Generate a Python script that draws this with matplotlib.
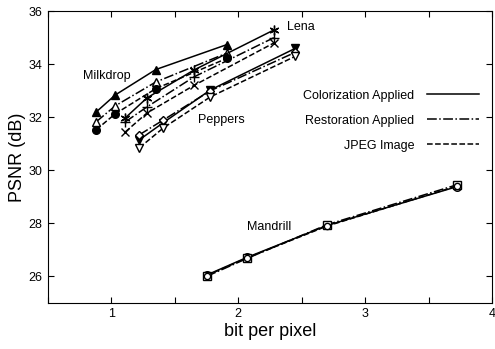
import matplotlib
matplotlib.use("Agg")
import matplotlib.pyplot as plt

plt.rcParams['font.family'] = ['Liberation Sans', 'DejaVu Sans']

# Milkdrop
milk_x = [0.88, 1.03, 1.35, 1.91]
milk_color = [32.2, 32.84, 33.8, 34.74]
milk_rest = [31.83, 32.43, 33.33, 34.42]
milk_jpeg = [31.53, 32.13, 33.08, 34.22]
# Lena
lena_x = [1.11, 1.28, 1.65, 2.28]
lena_color = [31.98, 32.73, 33.78, 35.29]
lena_rest = [31.83, 32.39, 33.52, 35.0]
lena_jpeg = [31.45, 32.16, 33.2, 34.8]
# Peppers
pep_x = [1.22, 1.41, 1.78, 2.45]
pep_color = [31.15, 31.8, 33.03, 34.6]
pep_rest = [31.34, 31.9, 33.0, 34.45]
pep_jpeg = [30.85, 31.6, 32.77, 34.3]
# Mandrill
man_x = [1.75, 2.07, 2.7, 3.72]
man_color = [26.05, 26.72, 27.92, 29.38]
man_rest = [26.0, 26.68, 27.95, 29.45]
man_jpeg = [26.03, 26.7, 27.9, 29.4]

xticks = [0.5, 1, 1.5, 2, 2.5, 3, 3.5, 4]
xticklabels = ['', '1', '', '2', '', '3', '', '4']
yticks = [26, 28, 30, 32, 34, 36]

fig = plt.figure(figsize=(4.95, 3.49), dpi=100)
ax = fig.add_axes([0.097, 0.132, 0.897, 0.836])

lw = 1.1
ms = 5.5
kw = dict(color='black', linewidth=lw, markersize=ms)

# Milkdrop
ax.plot(milk_x, milk_color, '-', marker='^', markerfacecolor='black', **kw)
ax.plot(milk_x, milk_rest, '-.', marker='^', markerfacecolor='white', **kw)
ax.plot(milk_x, milk_jpeg, '--', marker='o', markerfacecolor='black', **kw)
# Lena
ax.plot(lena_x, lena_color, '-', marker=(6, 2, 0), markersize=7, color='black', linewidth=lw)
ax.plot(lena_x, lena_rest, '-.', marker='+', markersize=7, color='black', linewidth=lw)
ax.plot(lena_x, lena_jpeg, '--', marker='x', markersize=6, color='black', linewidth=lw)
# Peppers
ax.plot(pep_x, pep_color, '-', marker='v', markerfacecolor='black', **kw)
ax.plot(pep_x, pep_rest, '-.', marker='D', markerfacecolor='white', markersize=4.5, color='black', linewidth=lw)
ax.plot(pep_x, pep_jpeg, '--', marker='v', markerfacecolor='white', **kw)
# Mandrill
ax.plot(man_x, man_color, '-', marker='o', markerfacecolor='white', **kw)
ax.plot(man_x, man_rest, '-.', marker='s', markerfacecolor='white', **kw)
ax.plot(man_x, man_jpeg, '--', marker='o', markerfacecolor='white', markersize=4.5, color='black', linewidth=lw)

# legend
from matplotlib.lines import Line2D
handles = [Line2D([], [], color='black', lw=lw, ls='-'),
           Line2D([], [], color='black', lw=lw, ls='-.'),
           Line2D([], [], color='black', lw=lw, ls='--')]
labels = ['Colorization Applied', 'Restoration Applied', 'JPEG Image']
ax.legend(handles, labels, loc='upper right', bbox_to_anchor=(0.997, 0.77),
          frameon=False, markerfirst=False, handlelength=4.2, fontsize=9,
          labelspacing=1.05, handletextpad=1.0)

ax.text(2.38, 35.4, 'Lena', fontsize=9, va='center', ha='left')
ax.text(0.96, 33.55, 'Milkdrop', fontsize=9, va='center', ha='center')
ax.text(1.87, 31.9, 'Peppers', fontsize=9, va='center', ha='center')
ax.text(2.24, 27.85, 'Mandrill', fontsize=9, va='center', ha='center')

ax.set_xlim(0.5, 4)
ax.set_ylim(25, 36)
ax.set_xticks(xticks)
ax.set_xticklabels(xticklabels)
ax.set_yticks(yticks)
ax.tick_params(direction='in', top=True, right=True, labelsize=9, length=4, width=0.8, pad=4)
for s in ax.spines.values():
    s.set_linewidth(0.8)
ax.set_xlabel('bit per pixel', fontsize=13, labelpad=2)
ax.set_ylabel('PSNR (dB)', fontsize=13, labelpad=2)

fig.savefig('out.png', dpi=100)
